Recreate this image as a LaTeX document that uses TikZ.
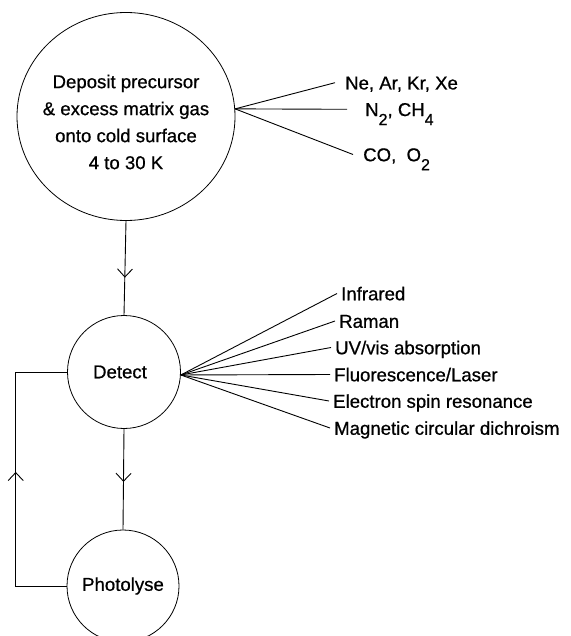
\documentclass[tikz,border=0pt]{standalone}
\usepackage{fontspec}
\setmainfont{Liberation Sans}[FakeBold=0.7]
\usetikzlibrary{shapes.geometric,arrows.meta,decorations.markings}
\newcommand\lowsub[1]{\raisebox{-9pt}{\fontsize{16}{16}\selectfont #1}}
\tikzset{
  txt/.style={font=\fontsize{18.6}{27}\selectfont},
  ln/.style={line width=0.9pt},
  bubble/.style={draw, circle, line width=0.8pt, inner sep=0pt, txt},
  lab/.style={anchor=west, inner xsep=4pt, inner ysep=0pt, text height=13.5pt, text depth=0pt, txt},
  midarrow/.style={postaction={decorate}, decoration={markings, mark=at position #1 with {\arrow{Straight Barb[length=8pt,width=15pt]}}}}
}
\begin{document}
\begin{tikzpicture}[x=1pt,y=-1pt]
\useasboundingbox (0,0) rectangle (570,636);
% main nodes
\node[bubble, ellipse, minimum width=218pt, minimum height=208pt] (dep) at (126,116.5) {};
\node[txt, align=center, inner sep=0pt] (deptxt) at (126,122) {Deposit precursor\\\& excess matrix gas\\onto cold surface\\4 to 30 K};
\node[bubble, minimum size=113pt] (det) at (124,372) {\hspace*{-8pt}Detect};
\node[bubble, minimum size=112pt] (pho) at (123,586) {Photolyse};
% matrix gases
\node[lab, inner xsep=10pt] (ne) at (335,82.7) {Ne, Ar, Kr, Xe};
\node[lab, inner xsep=18pt] (n2) at (347,109.3) {N\lowsub{2}, CH\lowsub{4}};
\node[lab, inner xsep=10pt] (co) at (353,154.5) {CO,\ \ O\lowsub{2}};
\draw[ln] (dep.4) -- (ne.west);
\draw[ln] (dep.4) -- (n2.west);
\draw[ln] (dep.4) -- (co.west);
% detection methods
\node[lab] (ir) at (337,293.5) {Infrared};
\node[lab] (ram) at (335,321) {Raman};
\node[lab] (uv) at (331,347.5) {UV/vis absorption};
\node[lab] (fl) at (330,374.5) {Fluorescence/Laser};
\node[lab] (esr) at (329,401) {Electron spin resonance};
\node[lab] (mcd) at (330,428) {Magnetic circular dichroism};
\foreach \n in {ir,ram,uv,fl,esr,mcd}
  \draw[ln] (det.-3) -- (\n.west);
% flow
\draw[ln, midarrow=56.7pt] (dep.south) -- (det.north);
\draw[ln, midarrow=53pt] (det.south) -- (pho.north);
\coordinate (c1) at (15.7,586);
\coordinate (c2) at (15.7,372);
\draw[ln, midarrow=165pt] (pho.west) -- (c1) -- (c2) -- (det.west);
\end{tikzpicture}
\end{document}
